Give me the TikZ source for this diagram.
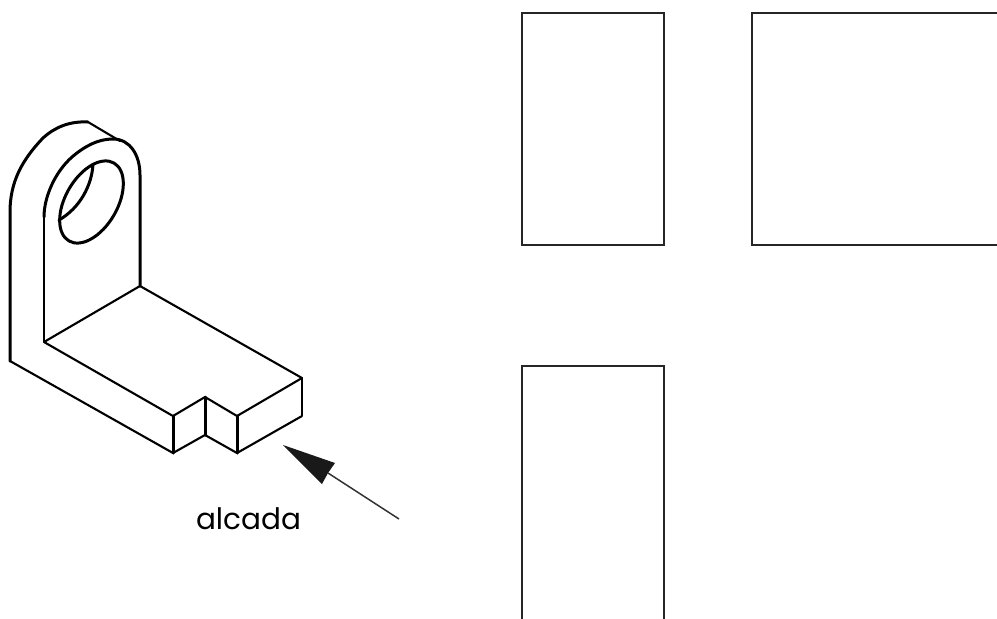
\documentclass[tikz,border=0pt]{standalone}
\usepackage{fontspec}
\setmainfont{Poppins}
\tikzset{
  x=1pt,y=-1pt,
  heavy/.style={line width=3pt,black,line cap=round,line join=round},
  medium/.style={line width=2.1pt,black,line cap=round,line join=round},
  thin view/.style={line width=2pt,black!85,line join=miter},
}
\begin{document}
\begin{tikzpicture}
\useasboundingbox (0,0) rectangle (997,619);
% orthographic view frames
\draw[thin view] (521.5,13) rectangle (663.5,245);
\draw[thin view] (998,13) -- (752,13) -- (752,245) -- (998,245);
\draw[thin view] (521.5,620) -- (521.5,366) -- (663.5,366) -- (663.5,620);
% named corners of the part
\coordinate (a) at (10,361);
\coordinate (b) at (173,453);
\coordinate (c) at (173,416);
\coordinate (d) at (44,342);
\coordinate (e) at (140,286);
\coordinate (f) at (302,378);
\coordinate (g) at (302,416);
\coordinate (h) at (237,453);
\coordinate (i) at (237,416);
\coordinate (j) at (205,397);
\coordinate (k) at (205,435);
% base
\draw[medium] (a) -- (b) (c) -- (d) -- (e) -- (f) (f) -- (i) -- (j) -- (c)
  (b) -- (k) -- (h) -- (g);
\draw[line width=1.7pt] (f) -- (g);
\draw[heavy] (b) -- (c) (h) -- (i) (j) -- (k);
% upright: outer contour
\draw[heavy] (a) -- (10,212) .. controls (10,182) and (22,160) .. (43,138)
  .. controls (55,127) and (70,121) .. (88,122);
\draw[medium] (88,122) -- (120,141);
\draw[line width=1.7pt] (d) -- (44,217);
\draw[heavy] (44,217) .. controls (44,197) and (55,172) .. (72,157)
  .. controls (85,146) and (98,139) .. (113,139)
  .. controls (130,139) and (140,155) .. (140,175) -- (e);
% hole
\draw[heavy,shift={(91.5,202)},rotate=60] (0,0) ellipse [x radius=45,y radius=26];
\draw[heavy] (93,164) .. controls (92,185) and (80,208) .. (59,220);
% view arrow
\coordinate (tail) at (399,519);
\coordinate (tip) at (283,445);
\coordinate (barb1) at (335,463);
\coordinate (barb2) at (322,484);
\coordinate (notch) at (328,473);
\draw[line width=1.5pt,black!80] (tail) -- (notch);
\fill[black!90] (tip) -- (barb1) -- (notch) -- (barb2) -- cycle;
\node[font=\fontsize{29.5}{29.5}\selectfont,anchor=base,inner sep=0pt] (alcada) at (248.5,529) {alcada};
\end{tikzpicture}
\end{document}
